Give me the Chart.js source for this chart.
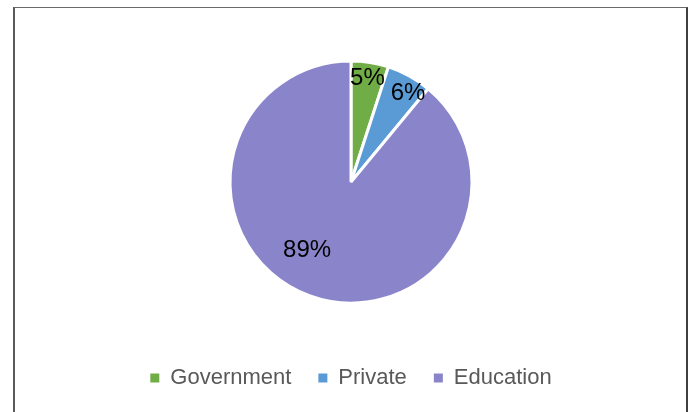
<!DOCTYPE html>
<html>
<head>
<meta charset="utf-8">
<script src="https://cdn.jsdelivr.net/npm/chart.js@4/dist/chart.umd.min.js"></script>
<style>
  html, body { margin: 0; padding: 0; background: #fff; overflow: hidden; }
  #frame {
    position: absolute; left: 13px; top: 7px; width: 671px; height: 420px;
    border-top: 1px solid #6b6b6b; border-left: 2px solid #5a5a5a; border-right: 2px solid #3f3f3f;
  }
  #wrap { position: absolute; left: 0; top: 0; width: 692px; height: 412px; }
</style>
</head>
<body>
<div id="frame"></div>
<div id="wrap"><canvas id="myChart"></canvas></div>
<script>
const categories = ['Government', 'Private', 'Education'];
const shares = [5, 6, 89];
const colours = ['#70ad47', '#5b9bd5', '#8a85cb'];

// where each percentage label sits: fraction of radius, angle nudge in degrees
const labelSpots = [
  { r: 0.87, nudge: 0 },
  { r: 0.87, nudge: 4 },
  { r: 0.67, nudge: 13 }
];

const pieLabels = {
  id: 'pieLabels',
  afterDatasetsDraw(chart) {
    const ctx = chart.ctx;
    const meta = chart.getDatasetMeta(0);
    ctx.save();
    ctx.font = '24px "Liberation Sans", Arial, sans-serif';
    ctx.fillStyle = '#000';
    ctx.textAlign = 'center';
    ctx.textBaseline = 'middle';
    meta.data.forEach((arc, i) => {
      const p = arc.getProps(['x', 'y', 'startAngle', 'endAngle', 'outerRadius'], true);
      const spot = labelSpots[i];
      const mid = (p.startAngle + p.endAngle) / 2 + spot.nudge * Math.PI / 180;
      const r = p.outerRadius * spot.r;
      ctx.fillText(shares[i] + '%', p.x + Math.cos(mid) * r, p.y + Math.sin(mid) * r);
    });
    ctx.restore();
  }
};

let myChart = document.getElementById('myChart').getContext('2d');

let shareChart = new Chart(myChart, {
  type: 'pie',
  data: {
    labels: categories,
    datasets: [{
      data: shares,
      backgroundColor: colours,
      borderColor: '#fff',
      borderWidth: 3,
      radius: 121
    }]
  },
  options: {
    responsive: true,
    maintainAspectRatio: false,
    animation: false,
    layout: { padding: { top: 24, bottom: 13, left: 10, right: 0 } },
    plugins: {
      tooltip: { enabled: false },
      legend: {
        position: 'bottom',
        labels: {
          boxWidth: 9,
          boxHeight: 9,
          padding: 27,
          color: '#595959',
          font: { family: '"Liberation Sans", Arial, sans-serif', size: 22 },
          generateLabels(chart) {
            return categories.map((name, i) => ({
              text: name,
              fillStyle: colours[i],
              strokeStyle: colours[i],
              lineWidth: 0,
              fontColor: '#595959',
              hidden: false,
              index: i
            }));
          }
        }
      }
    }
  },
  plugins: [pieLabels]
});
</script>
</body>
</html>
